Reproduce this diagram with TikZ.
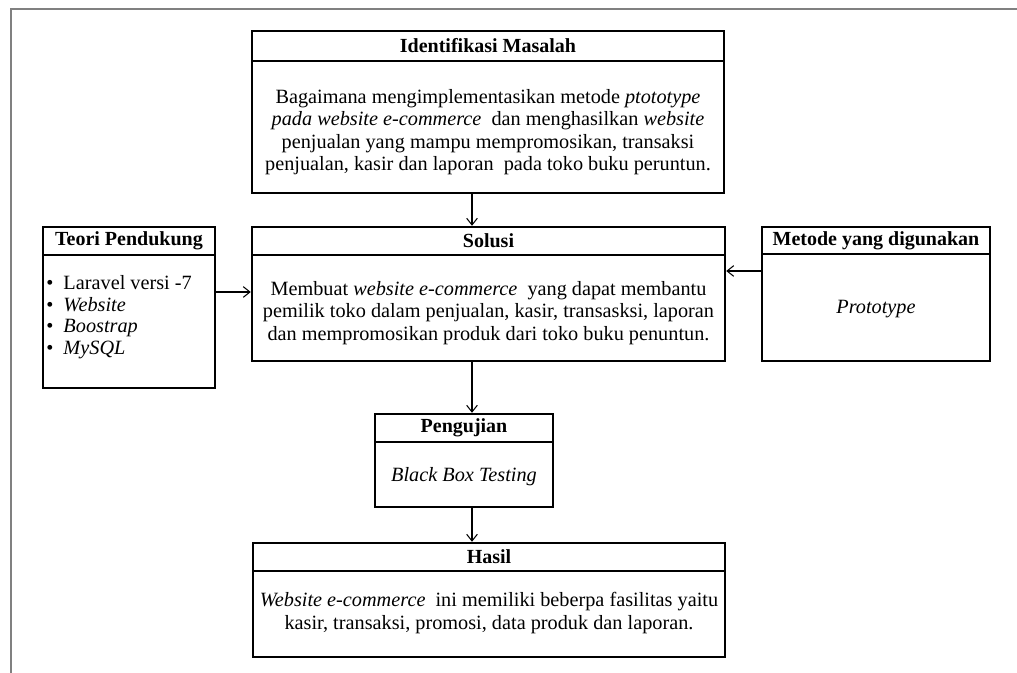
\documentclass[tikz,border=0pt]{standalone}
\usepackage{fontspec}
\setmainfont{Liberation Serif}
\usetikzlibrary{arrows.meta,fit}
\begin{document}
\begin{tikzpicture}[x=0.75pt,y=-0.75pt,
  box/.style={draw, line width=1.8pt, inner sep=0pt},
  sep/.style={line width=1.8pt},
  hdr/.style={font=\fontsize{15}{16}\selectfont\bfseries, inner sep=0pt},
  body/.style={font=\fontsize{15.2}{16.7}\selectfont, align=center, inner sep=0pt},
  list/.style={font=\fontsize{15.2}{16.3}\selectfont, align=left, inner sep=0pt},
  link/.style={-{Straight Barb[length=5pt,width=8pt]}, line width=0.8pt},
  frame/.style={draw=black!50, line width=1.5pt}]
\useasboundingbox (0,0) rectangle (1017,673);
\fill[white] (0,0) rectangle (1017,673);
% outer frame (top and left edges)
\draw[frame] (11,673) -- (11,9) -- (1017,9);

% Identifikasi Masalah
\node[box, fit={(252,31) (724,193)}] (im) {};
\draw[sep] (252,61) -- (724,61);
\node[hdr] (imh) at (488,46) {Identifikasi Masalah};
\node[body] (imb) at (488,132) {Bagaimana mengimplementasikan metode \textit{ptototype}\\
\textit{pada website e-commerce}\ \ dan menghasilkan \textit{website}\\
penjualan yang mampu mempromosikan, transaksi\\
penjualan, kasir dan laporan\ \ pada toko buku peruntun.};

% Solusi
\node[box, fit={(252,227) (725,361)}] (sol) {};
\draw[sep] (252,255) -- (725,255);
\node[hdr] (solh) at (488.5,241) {Solusi};
\node[body] (solb) at (488.5,313) {Membuat \textit{website e-commerce}\ \ yang dapat membantu\\
pemilik toko dalam penjualan, kasir, transasksi, laporan\\
dan mempromosikan produk dari toko buku penuntun.};

% Teori Pendukung
\node[box, fit={(43,227) (215,388)}] (tp) {};
\draw[sep] (43,255) -- (215,255);
\node[hdr] (tph) at (129,241) {Teori Pendukung};
\node[list, anchor=north west] (tpb) at (46,275) {\textbullet\ \ Laravel versi -7\\
\textbullet\ \ \textit{Website}\\
\textbullet\ \ \textit{Boostrap}\\
\textbullet\ \ \textit{MySQL}};

% Metode yang digunakan
\node[box, fit={(762,227) (990,361)}] (mt) {};
\draw[sep] (762,254) -- (990,254);
\node[hdr] (mth) at (876,240.5) {Metode yang digunakan};
\node[body] (mtb) at (876,309) {\textit{Prototype}};

% Pengujian
\node[box, fit={(375,414) (553,507)}] (pg) {};
\draw[sep] (375,442) -- (553,442);
\node[hdr] (pgh) at (464,428) {Pengujian};
\node[body] (pgb) at (464,477) {\textit{Black Box Testing}};

% Hasil
\node[box, fit={(253,543) (725,657)}] (hs) {};
\draw[sep] (253,571) -- (725,571);
\node[hdr] (hsh) at (489,557) {Hasil};
\node[body] (hsb) at (489,613) {\textit{Website e-commerce}\ \ ini memiliki beberpa fasilitas yaitu\\
kasir, transaksi, promosi, data produk dan laporan.};

% connectors
\coordinate (rowa) at (0,292);
\coordinate (rowb) at (0,271);
\coordinate (col) at (472,0);
\draw[link] (im.south -| col) -- (sol.north -| col);
\draw[link] (tp.east |- rowa) -- (sol.west |- rowa);
\draw[link] (mt.west |- rowb) -- (sol.east |- rowb);
\draw[link] (sol.south -| col) -- (pg.north -| col);
\draw[link] (pg.south -| col) -- (hs.north -| col);
\end{tikzpicture}
\end{document}
